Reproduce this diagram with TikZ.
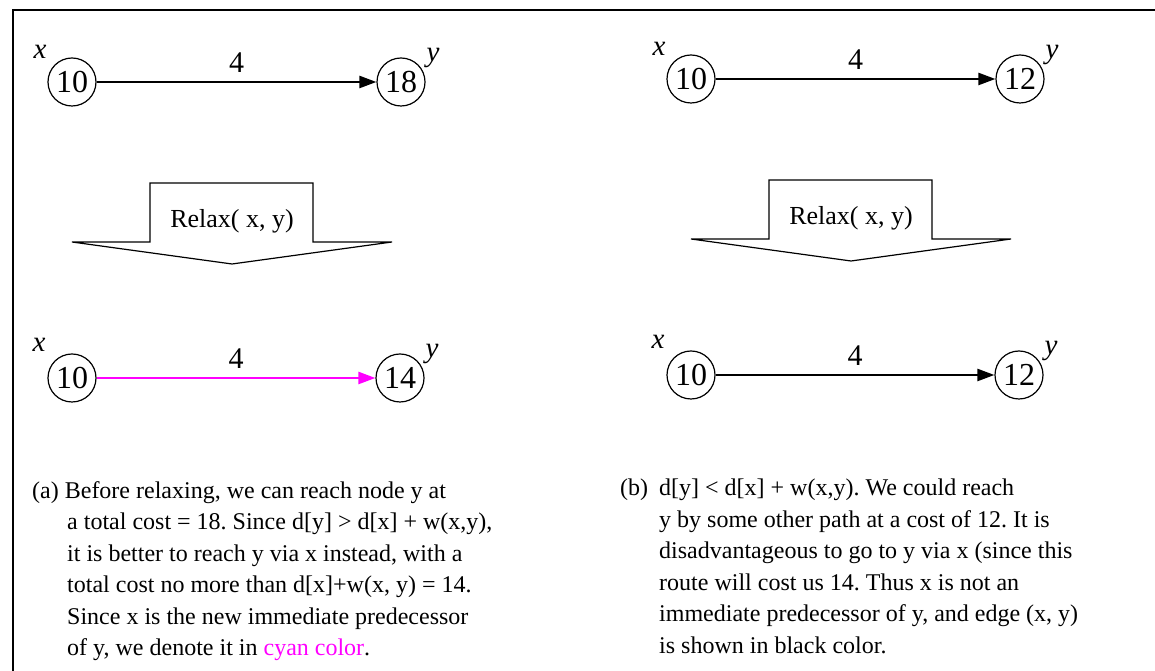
\documentclass[tikz,border=0pt]{standalone}
\usepackage{fontspec}
\setmainfont{Liberation Serif}
\usetikzlibrary{arrows.meta}
\definecolor{relaxpink}{RGB}{255,0,255}
\frenchspacing

\begin{document}
\begin{tikzpicture}[x=10pt, y=10pt, >={Triangle[length=17pt,width=12pt]},
		num/.style={circle, draw, line width=1.2pt, minimum size=48pt, inner sep=0pt, font=\fontsize{32}{32}\selectfont},
		lbl/.style={inner sep=0pt, font=\fontsize{29}{29}\selectfont\itshape},
		wt/.style={above=5pt, font=\fontsize{30}{30}\selectfont},
		edge/.style={->, line width=2.4pt},
		relax/.style={inner sep=0pt, font=\fontsize{26}{26}\selectfont},
		caption/.style={anchor=north west, inner sep=0pt, align=left, font=\fontsize{24}{31.5}\selectfont}]
		\useasboundingbox (0,0) rectangle (115.5,67.1);
		% frame, open at the bottom and on the right
		\draw[line width=2pt] (1.3,0) |- (115.5,66.1);
		\foreach \xs/\ys/\lab/\dold/\dnew/\col in {0/0/a/18/14/relaxpink, 619/3/b/12/12/black} {
			\begin{scope}[xshift=\xs pt, yshift=\ys pt]
				% before relaxing
				\node[num] (xo\lab) at (7.2,58.9) {10};
				\node[num] (yo\lab) at (40.1,58.9) {\dold};
				\draw[edge] (xo\lab) -- node[wt] (wo\lab) {4} (yo\lab);
				\node[lbl] (xol\lab) at (4.0,61.9) {x};
				\node[lbl] (yol\lab) at (43.3,61.3) {y};
				% the Relax arrow
				\node[relax] (r\lab) at (23.2,45.0) {Relax( x, y)};
				\draw[line width=1.2pt] (15.0,48.8) -- (31.3,48.8) -- (31.3,42.9) -- (39.2,42.9)
					-- (23.2,40.7) -- (7.2,42.9) -- (15.0,42.9) -- cycle;
				% after relaxing
				\node[num] (xn\lab) at (7.2,29.3) {10};
				\node[num] (yn\lab) at (40.0,29.3) {\dnew};
				\draw[edge, color=\col] (xn\lab) -- node[wt, text=black] (wn\lab) {4} (yn\lab);
				\node[lbl] (xnl\lab) at (3.9,32.6) {x};
				\node[lbl] (ynl\lab) at (43.2,31.7) {y};
			\end{scope}
		}
		% (a) y gets the shorter cost
		\node[caption] (capa) at (3.2,19.0) {(a) Before relaxing, we can reach node y at\\
			\hspace*{35pt}a total cost = 18. Since d[y] > d[x] + w(x,y),\\
			\hspace*{35pt}it is better to reach y via x instead, with a\\
			\hspace*{35pt}total cost no more than d[x]+w(x, y) = 14.\\
			\hspace*{35pt}Since x is the new immediate predecessor\\
			\hspace*{35pt}of y, we denote it in \textcolor{relaxpink}{cyan color}.};
		% (b) y keeps its cost
		\node[caption] (capb) at (62.0,19.2) {\makebox[39pt][l]{(b)}d[y] < d[x] + w(x,y). We could reach\\
			\hspace*{39pt}y by some other path at a cost of 12. It is\\
			\hspace*{39pt}disadvantageous to go to y via x (since this\\
			\hspace*{39pt}route will cost us 14. Thus x is not an\\
			\hspace*{39pt}immediate predecessor of y, and edge (x, y)\\
			\hspace*{39pt}is shown in black color.};
	\end{tikzpicture}
\end{document}
